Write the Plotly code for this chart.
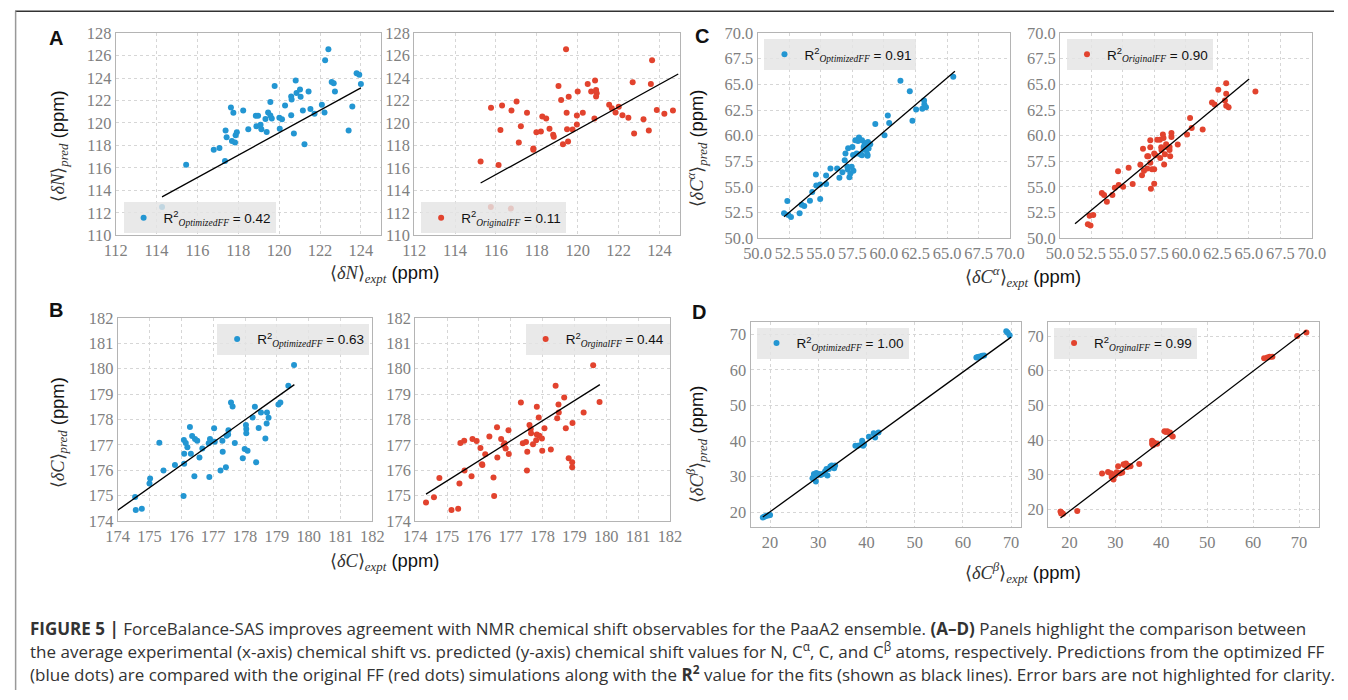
import plotly.graph_objects as go

# Measured page mapping: screen = S * (8 + figure_px). Invert it so that
# every element lands at its reference-pixel position.
WF, HF = 1348, 700
OFF = 8
SX, SY = 0.984, 0.977


def px(rx):
    return (rx / SX - OFF) / WF


def py(ry):
    return 1 - (ry / SY - OFF) / HF


# ---------------- data ----------------
n_opt_x = [115.45,116.80,117.08,117.35,117.38,117.43,117.64,117.69,117.76,117.84,117.87,117.93,118.24,118.49,118.86,118.97,118.89,119.09,119.13,119.39,119.33,119.46,119.57,119.57,119.64,119.78,120.01,120.03,120.14,120.29,120.59,120.61,120.59,120.72,120.81,120.85,121.02,121.05,121.16,121.24,121.44,121.53,121.73,122.09,122.22,122.25,122.41,122.57,122.67,122.73,123.40,123.58,123.79,123.92,124.00,114.27]
n_opt_y = [116.28,117.61,117.76,116.60,119.33,118.73,121.37,118.38,120.90,118.26,118.91,119.18,121.10,119.44,120.63,120.63,119.71,119.83,119.44,119.20,120.36,120.93,121.87,120.66,120.39,123.29,120.45,119.47,120.33,121.55,122.35,122.08,120.69,119.06,123.77,122.67,122.97,122.32,121.10,118.11,122.79,121.25,120.81,121.61,120.93,125.57,126.55,123.65,123.53,122.79,119.33,121.46,124.42,124.30,123.47,112.52]
n_orig_x = [115.25,115.76,116.13,116.22,116.30,116.76,117.01,117.12,117.22,117.52,117.83,117.83,117.98,118.20,118.27,118.46,118.62,118.80,118.83,119.06,119.19,119.28,119.43,119.46,119.48,119.53,119.56,119.75,119.96,119.96,120.00,120.25,120.49,120.66,120.82,120.85,120.90,120.93,120.90,121.54,121.67,121.85,122.01,122.19,122.48,122.69,122.76,123.22,123.48,123.58,123.64,123.87,124.24,124.66,115.75,116.73]
n_orig_y = [116.57,121.34,116.25,119.36,121.55,121.10,121.90,118.26,119.71,120.90,117.73,117.61,119.18,119.24,120.57,120.39,119.47,118.94,118.76,123.29,122.05,118.11,126.55,120.90,119.44,118.35,122.32,119.41,119.86,120.66,122.79,120.90,123.47,122.79,120.39,123.77,122.94,122.64,122.35,121.61,121.31,120.93,121.43,120.69,120.45,123.62,119.06,120.33,119.33,123.47,125.57,121.16,120.81,121.10,112.52,112.37]

ca_opt_x = [52.10,52.36,52.44,52.65,53.33,53.49,53.70,54.15,54.33,54.62,54.65,54.96,54.96,55.43,55.43,55.77,56.30,56.48,56.72,56.90,56.96,57.11,57.14,57.17,57.27,57.35,57.45,57.56,57.51,57.59,57.74,57.85,57.95,58.03,58.16,58.27,58.27,58.40,58.40,58.48,58.61,58.61,58.71,58.79,58.74,58.92,58.69,59.32,60.05,60.31,60.42,61.31,62.05,62.26,62.55,63.04,63.18,63.20,63.33,65.49]
ca_opt_y = [52.43,53.62,52.27,52.07,52.43,53.27,53.14,53.66,54.50,56.21,55.15,55.24,53.82,56.12,55.28,56.80,56.80,55.89,56.44,57.60,58.25,56.96,56.70,58.77,55.95,56.31,56.96,58.12,58.90,56.57,59.55,58.25,59.48,59.81,58.16,59.55,58.09,58.90,58.64,59.16,59.29,58.58,58.03,58.74,59.39,59.16,58.19,61.13,60.03,61.97,61.23,65.34,64.34,61.46,62.56,62.62,63.43,63.04,62.78,65.73]
ca_orig_x = [52.21,52.42,52.35,52.64,53.32,53.50,53.72,54.16,54.35,54.61,54.66,55.01,55.45,55.77,56.38,56.51,56.59,56.67,56.93,57.01,56.93,57.17,57.17,57.17,57.22,57.30,57.48,57.48,57.48,57.59,57.72,57.93,57.96,58.04,58.06,58.17,58.22,58.27,58.33,58.43,58.48,58.70,58.70,58.75,58.85,58.85,59.35,60.09,60.33,60.46,61.33,62.07,62.28,62.57,63.10,63.20,63.20,63.20,63.39,65.52]
ca_orig_y = [51.36,51.23,52.20,52.27,54.40,54.21,53.56,54.21,54.92,56.54,55.18,55.02,56.86,55.28,57.15,56.15,58.71,56.57,57.99,57.99,56.80,59.55,58.87,57.35,54.82,56.73,56.73,55.31,58.25,58.09,59.61,59.61,57.83,58.87,58.61,60.10,59.77,57.18,58.19,59.16,58.90,58.61,58.90,57.99,60.26,59.87,59.13,60.10,61.72,60.74,60.61,63.24,63.04,64.47,63.43,65.11,64.08,62.91,62.78,64.30]

c_opt_x = [174.55,174.57,174.76,175.00,175.02,175.31,175.44,175.80,176.07,176.09,176.09,176.08,176.14,176.19,176.27,176.30,176.34,176.41,176.43,176.50,176.57,176.66,176.88,176.86,176.90,176.92,177.03,177.05,177.23,177.29,177.30,177.40,177.42,177.47,177.48,177.56,177.61,177.68,177.93,177.99,178.03,178.04,178.04,178.08,178.24,178.31,178.35,178.43,178.50,178.64,178.68,178.69,178.74,179.05,179.11,179.36,179.54]
c_opt_y = [174.95,174.43,174.48,175.48,175.67,177.08,175.99,176.21,174.98,176.65,176.25,177.19,177.07,176.90,177.70,176.65,177.35,175.76,177.23,177.16,176.50,176.86,175.73,177.06,177.23,177.12,177.65,177.12,175.99,177.16,176.73,176.12,177.36,177.41,177.57,178.67,178.51,177.07,176.47,176.84,177.78,177.62,177.46,176.77,178.08,178.50,176.31,177.66,178.27,177.25,177.84,178.27,178.07,178.59,178.67,179.33,180.14]
c_orig_x = [174.34,174.59,174.76,175.14,175.35,175.39,175.42,175.54,175.55,175.77,175.80,175.93,176.05,176.10,176.11,176.20,176.33,176.46,176.48,176.57,176.58,176.70,176.78,176.81,176.84,176.93,176.94,177.32,177.38,177.48,177.51,177.52,177.59,177.63,177.64,177.70,177.80,177.82,177.82,177.88,177.90,177.98,177.99,178.06,178.26,178.41,178.46,178.50,178.51,178.68,178.73,178.82,178.93,178.93,178.94,179.29,179.59,179.79]
c_orig_y = [174.73,174.94,175.69,174.43,174.48,175.48,177.07,177.16,175.99,175.76,177.23,177.15,176.88,176.24,176.21,176.63,177.33,175.71,174.98,177.69,176.50,177.23,176.99,177.06,176.86,177.57,176.64,178.67,177.06,177.11,175.99,176.73,177.78,177.62,177.46,177.02,177.18,178.50,177.41,178.08,177.36,177.25,176.77,177.65,176.82,179.33,178.05,178.59,178.27,178.86,177.65,176.47,176.31,176.12,177.86,178.27,180.13,178.69]

cb_opt_x = [18.5,18.8,19.1,19.5,19.8,20.0,28.8,29.1,29.5,29.6,30.2,30.9,31.4,31.7,31.9,32.2,32.8,33.3,33.5,29.3,29.8,30.5,29.0,32.5,33.0,37.7,38.2,39.1,39.3,40.5,41.5,41.8,42.5,38.8,39.5,62.8,63.3,63.8,64.4,63.0,64.0,69.0,69.3,69.7]
cb_opt_y = [18.5,18.7,18.9,19.0,19.1,19.2,29.5,30.7,28.6,31.0,30.7,30.7,31.4,32.1,30.3,32.1,33.1,32.3,33.1,30.2,30.5,30.4,29.8,32.8,32.6,38.7,38.7,40.1,38.7,41.2,42.2,41.0,42.4,38.9,39.0,63.5,63.7,63.9,64.1,63.6,64.0,70.9,70.5,69.8]
cb_orig_x = [18.05,18.3,18.6,18.2,21.7,27.1,28.4,29.0,29.2,29.6,29.9,30.3,30.6,31.0,31.8,32.3,32.8,33.3,35.2,29.5,30.0,31.5,32.0,32.6,38.0,38.0,38.4,39.1,40.7,41.3,41.9,42.0,42.5,38.2,41.0,62.4,63.1,63.6,64.2,69.6,71.6]
cb_orig_y = [19.4,19.0,18.7,18.8,19.5,30.3,30.8,30.4,29.3,28.6,29.8,30.7,32.4,30.4,33.0,33.2,32.6,32.4,33.1,30.0,30.2,30.6,32.8,32.2,39.8,38.9,39.3,38.9,42.5,42.5,42.2,41.6,41.0,38.5,42.3,63.6,63.8,64.0,64.0,70.0,71.0]

# fit line end points (x, y)
fit_n_opt = ([114.27, 124.0], [113.41, 123.12])
fit_n_orig = ([115.25, 124.92], [114.65, 124.36])
fit_ca_opt = ([52.10, 65.62], [52.10, 66.28])
fit_ca_orig = ([51.19, 65.02], [51.42, 65.53])
fit_c_opt = ([174.0, 179.55], [174.42, 179.37])
fit_c_orig = ([174.34, 179.80], [175.06, 179.37])
fit_cb_opt = ([18.5, 70.0], [18.6, 69.25])
fit_cb_orig = ([18.05, 71.6], [17.5, 71.6])

r2_values = ["0.42", "0.11", "0.91", "0.90", "0.63", "0.44", "1.00", "0.99"]
r2_names = ["OptimizedFF", "OriginalFF", "OptimizedFF", "OriginalFF",
            "OptimizedFF", "OrginalFF", "OptimizedFF", "OrginalFF"]

BLUE = "#2396d2"
RED = "#e2432e"
SERIF = "Liberation Serif"
SANS = "Liberation Sans"

# panel definitions: data, fit, pixel box (x0,x1,y0,y1), axis ranges, ticks, legend corner
panels = [
    (n_opt_x, n_opt_y, fit_n_opt, BLUE, (110, 377, 32, 235), [112, 125], [110, 128], 2, 2, None, (118, 202)),
    (n_orig_x, n_orig_y, fit_n_orig, RED, (410, 677, 32, 235), [112, 125], [110, 128], 2, 2, None, (417, 202)),
    (ca_opt_x, ca_opt_y, fit_ca_opt, BLUE, (755, 1009, 32, 238), [50, 70], [50, 70], 2.5, 2.5, ".1f", (762, 38)),
    (ca_orig_x, ca_orig_y, fit_ca_orig, RED, (1059, 1312, 32, 238), [50, 70], [50, 70], 2.5, 2.5, ".1f", (1066, 38)),
    (c_opt_x, c_opt_y, fit_c_opt, BLUE, (112, 368, 318, 522), [174, 182], [174, 182], 1, 1, None, (212, 324)),
    (c_orig_x, c_orig_y, fit_c_orig, RED, (411, 667, 318, 522), [174, 182], [174, 182], 1, 1, None, (522, 324)),
    (cb_opt_x, cb_opt_y, fit_cb_opt, BLUE, (748, 1020, 322, 528), [15.95, 72.1], [15.8, 73.55], 10, 10, None, (754, 328)),
    (cb_orig_x, cb_orig_y, fit_cb_orig, RED, (1047, 1319, 322, 528), [15.35, 74.3], [14.9, 74.1], 10, 10, None, (1053, 328)),
]

fig = go.Figure()
layout = dict(width=WF, height=HF, margin=dict(l=0, r=0, t=0, b=0, pad=0),
              paper_bgcolor="white", plot_bgcolor="white",
              shapes=[], annotations=[])

axis_common = dict(showline=True, mirror=True, linecolor="#b4b4b4", linewidth=1,
                   showgrid=True, gridcolor="#d6d6d6", griddash="dot", gridwidth=1,
                   zeroline=False, ticks="",
                   tickfont=dict(family=SERIF, size=16.4, color="#808080"))

for i, (xs, ys, fit, col, box, xr, yr, dx, dy, fmt, leg) in enumerate(panels):
    k = i + 1
    sfx = "" if k == 1 else str(k)
    lname = "legend" if k == 1 else f"legend{k}"
    x0, x1, y0, y1 = box
    xa = dict(axis_common, domain=[px(x0), px(x1)], range=xr, dtick=dx,
              tick0=xr[0] if dx != 10 else 0, anchor=f"y{sfx}")
    ya = dict(axis_common, domain=[py(y1), py(y0)], range=yr, dtick=dy,
              tick0=yr[0] if dy != 10 else 0, anchor=f"x{sfx}")
    if fmt:
        xa["tickformat"] = fmt
        ya["tickformat"] = fmt
    layout[f"xaxis{sfx}"] = xa
    layout[f"yaxis{sfx}"] = ya
    label = (f"R<sup>2</sup><sub><span style=\"font-family:{SERIF}\"><i>{r2_names[i]}</i></span></sub>"
             f" = {r2_values[i]}")
    fig.add_trace(go.Scatter(x=xs, y=ys, mode="markers", name=label,
                             marker=dict(color=col, size=6, line=dict(width=0)),
                             xaxis=f"x{sfx}", yaxis=f"y{sfx}", legend=lname, showlegend=True))
    fig.add_trace(go.Scatter(x=fit[0], y=fit[1], mode="lines",
                             line=dict(color="black", width=1.3),
                             xaxis=f"x{sfx}", yaxis=f"y{sfx}", showlegend=False))
    layout[lname] = dict(x=px(leg[0]), y=py(leg[1]), xanchor="left", yanchor="top",
                         bgcolor="rgba(228,228,228,0.82)", borderwidth=0,
                         font=dict(family=SANS, size=13.5, color="#111"),
                         itemwidth=30)


# axis titles (math-like labels)
def mlabel(sym, sub):
    return (f"<span style=\"font-family:{SERIF};color:#333\">⟨<i>δ{sym}</i>⟩<sub><i>{sub}</i></sub></span>"
            f" (ppm)")


titles = [
    (mlabel("N", "expt"), 380, 274, 0),
    (mlabel("N", "pred"), 53, 145, -90),
    (mlabel("C", "expt"), 380, 563, 0),
    (mlabel("C", "pred"), 53, 433, -90),
    (mlabel("C<sup>α</sup>", "expt"), 1022, 277, 0),
    (mlabel("C<sup>α</sup>", "pred"), 694, 148, -90),
    (mlabel("C<sup>β</sup>", "expt"), 1022, 574, 0),
    (mlabel("C<sup>β</sup>", "pred"), 695, 445, -90),
]
for txt, rx, ry, ang in titles:
    layout["annotations"].append(dict(text=txt, x=px(rx), y=py(ry), xref="paper", yref="paper",
                                      xanchor="center", yanchor="middle", showarrow=False,
                                      textangle=ang, font=dict(family=SANS, size=18.4, color="#111")))

for letter, rx, ry in [("A", 50, 37), ("B", 50, 310), ("C", 699, 35), ("D", 696, 312)]:
    layout["annotations"].append(dict(text=f"<b>{letter}</b>", x=px(rx), y=py(ry),
                                      xref="paper", yref="paper", xanchor="center", yanchor="middle",
                                      showarrow=False, font=dict(family=SANS, size=20, color="#111")))

caption = [
    "<b>FIGURE 5 |</b> ForceBalance-SAS improves agreement with NMR chemical shift observables for the PaaA2 ensemble. "
    "<b>(A–D)</b> Panels highlight the comparison between",
    "the average experimental (x-axis) chemical shift vs. predicted (y-axis) chemical shift values for N, C<sup>α</sup>, C, "
    "and C<sup>β</sup> atoms, respectively. Predictions from the optimized FF",
    "(blue dots) are compared with the original FF (red dots) simulations along with the <b>R<sup>2</sup></b> value for "
    "the fits (shown as black lines). Error bars are not highlighted for clarity.",
]
for j, line in enumerate(caption):
    layout["annotations"].append(dict(text=line, x=px(22), y=py(630 + 22.5 * j),
                                      xref="paper", yref="paper", xanchor="left", yanchor="middle",
                                      showarrow=False, font=dict(family="Open Sans", size=17.0, color="#333")))

# frame lines
layout["shapes"].append(dict(type="line", xref="paper", yref="paper", x0=px(9), x1=1,
                             y0=py(10), y1=py(10), line=dict(color="#333", width=1.5)))
layout["shapes"].append(dict(type="line", xref="paper", yref="paper", x0=px(9.5), x1=px(9.5),
                             y0=0, y1=py(10), line=dict(color="#999", width=1.5)))

fig.update_layout(**layout)
fig.write_html("out.html", config={"displayModeBar": False})
